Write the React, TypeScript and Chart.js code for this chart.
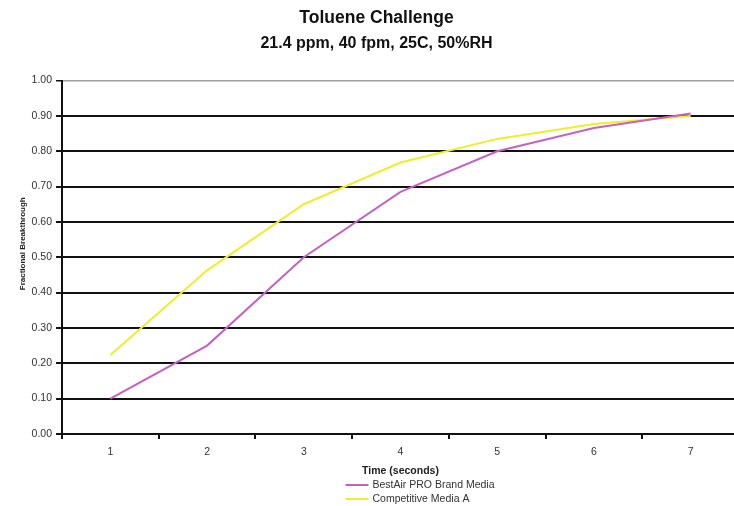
import React, { useEffect, useRef } from "react";
import { Chart, registerables } from "chart.js";

Chart.register(...registerables);

const titleLine1 = "Toluene Challenge";
const titleLine2 = "21.4 ppm, 40 fpm, 25C, 50%RH";
const xAxisTitle = "Time (seconds)";
const yAxisTitle = "Fractional Breakthrough";
const timeLabels = ["1", "2", "3", "4", "5", "6", "7"];
const bestAirLabel = "BestAir PRO Brand Media";
const bestAirValues = [0.1, 0.25, 0.5, 0.685, 0.8, 0.866, 0.907];
const competitiveLabel = "Competitive Media A";
const competitiveValues = [0.223, 0.463, 0.65, 0.768, 0.835, 0.877, 0.9];
const yTicks = [0, 0.1, 0.2, 0.3, 0.4, 0.5, 0.6, 0.7, 0.8, 0.9, 1.0];

const MAGENTA = "#c462c4";
const YELLOW = "#eeee2c";
const FONT = "'Liberation Sans', Arial, sans-serif";

const decorPlugin = {
  id: "decor",
  afterDraw(chart: any) {
    const ctx = chart.ctx;
    const area = chart.chartArea;
    const cx = (area.left + area.right) / 2;
    const x0 = cx - 55;
    const rows = [
      { label: chart.data.datasets[0].label, color: chart.data.datasets[0].borderColor, y: 485 },
      { label: chart.data.datasets[1].label, color: chart.data.datasets[1].borderColor, y: 499 },
    ];
    ctx.save();
    ctx.font = `10.5px ${FONT}`;
    ctx.textBaseline = "middle";
    ctx.textAlign = "left";
    rows.forEach((r) => {
      ctx.strokeStyle = r.color;
      ctx.lineWidth = 2;
      ctx.beginPath();
      ctx.moveTo(x0, r.y);
      ctx.lineTo(x0 + 23, r.y);
      ctx.stroke();
      ctx.fillStyle = "#333";
      ctx.fillText(r.label, x0 + 27, r.y);
    });
    // y-axis title, slightly above the vertical centre as in the original
    const yScale = chart.scales.y;
    const tx = yScale.left + 4 + 4.8;
    const ty = (area.top + area.bottom) / 2 - 13.5;
    ctx.translate(tx, ty);
    ctx.rotate(-Math.PI / 2);
    ctx.font = `bold 8px ${FONT}`;
    ctx.textAlign = "center";
    ctx.fillStyle = "#222";
    ctx.fillText(yAxisTitle, 0, 0);
    ctx.restore();
  },
};

export default function App() {
  const canvasRef = useRef<HTMLCanvasElement | null>(null);

  useEffect(() => {
    if (!canvasRef.current) return;
    const chart = new Chart(canvasRef.current, {
      type: "line",
      data: {
        labels: timeLabels,
        datasets: [
          {
            label: bestAirLabel,
            data: bestAirValues,
            borderColor: MAGENTA,
            backgroundColor: MAGENTA,
            borderWidth: 2,
            pointRadius: 0,
            tension: 0,
            fill: false,
          },
          {
            label: competitiveLabel,
            data: competitiveValues,
            borderColor: YELLOW,
            backgroundColor: YELLOW,
            borderWidth: 2,
            pointRadius: 0,
            tension: 0,
            fill: false,
          },
        ],
      },
      options: {
        responsive: false,
        animation: false,
        devicePixelRatio: 1,
        layout: { padding: { left: 14, right: 31, top: 0, bottom: 30 } },
        plugins: {
          legend: { display: false },
          tooltip: { enabled: false },
          title: {
            display: true,
            text: titleLine1,
            color: "#111",
            font: { family: FONT, size: 17.5, weight: "bold", lineHeight: 1.2 },
            padding: { top: 8, bottom: 2 },
          },
          subtitle: {
            display: true,
            text: titleLine2,
            color: "#111",
            font: { family: FONT, size: 16, weight: "bold", lineHeight: 1.2 },
            padding: { top: 3.4, bottom: 27 },
          },
        },
        scales: {
          x: {
            type: "category",
            offset: true,
            grid: {
              offset: true,
              drawOnChartArea: false,
              drawTicks: true,
              tickLength: 5,
              color: "#111",
              lineWidth: 2,
            },
            border: { display: true, color: "#111", width: 2 },
            ticks: {
              color: "#333",
              font: { family: FONT, size: 10.5 },
              padding: 7,
              maxRotation: 0,
            },
            title: {
              display: true,
              text: xAxisTitle,
              color: "#222",
              font: { family: FONT, size: 10.5, weight: "bold", lineHeight: 1.0 },
              padding: { top: 0, bottom: 0 },
            },
          },
          y: {
            min: 0,
            max: 1,
            afterBuildTicks: (scale: any) => {
              scale.ticks = yTicks.map((v) => ({ value: v }));
            },
            grid: {
              drawTicks: true,
              tickLength: 6,
              tickColor: "#111",
              color: (ctx: any) => (ctx.tick && Math.abs(ctx.tick.value - 1) < 1e-6 ? "#a0a0a0" : "#111"),
              lineWidth: (ctx: any) => (ctx.tick && Math.abs(ctx.tick.value - 1) < 1e-6 ? 1.5 : 2),
            },
            border: { display: true, color: "#111", width: 2 },
            ticks: {
              color: "#333",
              font: { family: FONT, size: 10.5 },
              padding: 4,
              callback: (v: any) => Number(v).toFixed(2),
            },
            title: {
              display: true,
              text: yAxisTitle,
              color: "rgba(0,0,0,0)",
              font: { family: FONT, size: 8, weight: "bold", lineHeight: 1.2 },
              padding: { top: 4, bottom: 0 },
            },
          },
        },
      },
      plugins: [decorPlugin],
    } as any);
    return () => chart.destroy();
  }, []);

  return (
    <div
      style={{
        position: "fixed",
        left: 0,
        top: 0,
        width: 734,
        height: 506,
        overflow: "hidden",
        background: "#fff",
      }}
    >
      <canvas ref={canvasRef} width={770} height={506} style={{ display: "block", width: 770, height: 506 }} />
    </div>
  );
}
